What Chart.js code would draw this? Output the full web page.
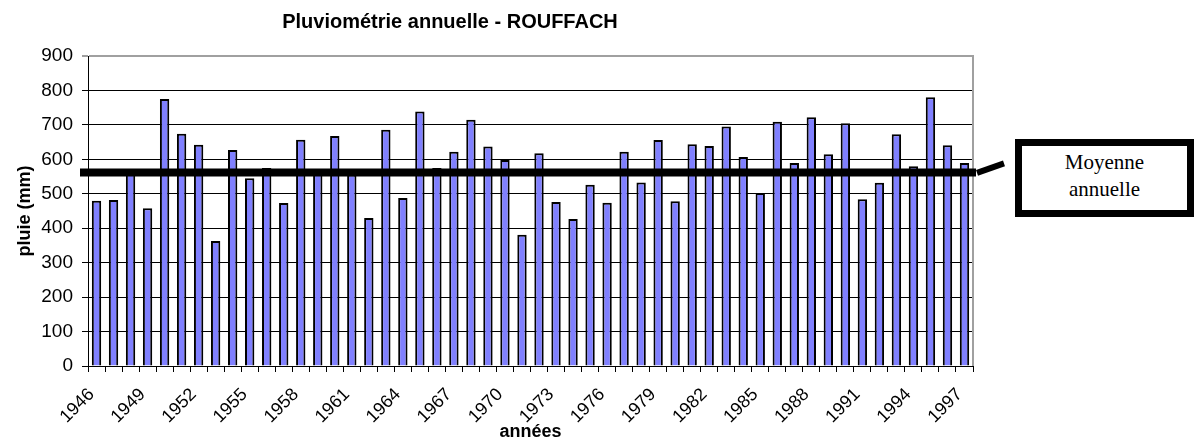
<!DOCTYPE html>
<html><head><meta charset="utf-8">
<script src="https://cdn.jsdelivr.net/npm/chart.js@4.4.1/dist/chart.umd.min.js"></script>
<style>
html,body{margin:0;padding:0;background:#fff;}
#wrap{position:relative;width:1199px;height:441px;overflow:hidden;}
#c{position:absolute;left:0;top:0;}
#box{position:absolute;left:1015px;top:139px;width:179px;height:78px;border:7px solid #000;box-sizing:border-box;font-family:'Liberation Serif','Times New Roman',serif;font-size:21px;line-height:27px;text-align:center;padding-top:3px;background:#fff;color:#000;}
</style></head><body>
<div id="wrap"><canvas id="c" width="1199" height="441"></canvas><div id="box">Moyenne<br>annuelle</div></div>
<script>
const years = ['1946','1947','1948','1949','1950','1951','1952','1953','1954','1955','1956','1957','1958','1959','1960','1961','1962','1963','1964','1965','1966','1967','1968','1969','1970','1971','1972','1973','1974','1975','1976','1977','1978','1979','1980','1981','1982','1983','1984','1985','1986','1987','1988','1989','1990','1991','1992','1993','1994','1995','1996','1997'];
const rainfall = [480,482,560,458,775,674,642,363,627,545,575,473,657,558,668,556,430,686,488,739,575,622,715,637,598,381,618,476,427,526,474,622,533,656,478,644,639,695,607,502,709,589,722,615,705,484,532,673,580,780,641,589];
const tickLabels = ['1946','1949','1952','1955','1958','1961','1964','1967','1970','1973','1976','1979','1982','1985','1988','1991','1994','1997'];
const meanRain = 562;
const chartTitle = 'Pluviométrie annuelle - ROUFFACH';

Chart.defaults.font.family = "'Liberation Sans', Arial, sans-serif";
Chart.defaults.color = '#000';

const decor = {
  id: 'decor',
  afterDatasetsDraw(chart) {
    const {ctx, chartArea: a, scales} = chart;
    ctx.save();
    ctx.strokeStyle = '#a0a0a0';
    ctx.lineWidth = 2;
    ctx.beginPath();
    ctx.moveTo(a.right, a.top - 1);
    ctx.lineTo(a.right, a.bottom);
    ctx.stroke();
    const y = scales.y.getPixelForValue(meanRain);
    ctx.strokeStyle = '#000';
    ctx.lineWidth = 8;
    ctx.beginPath();
    ctx.moveTo(a.left - 8, y);
    ctx.lineTo(a.right + 3, y);
    ctx.stroke();
    ctx.lineWidth = 6;
    ctx.beginPath();
    ctx.moveTo(a.right + 4, y + 0.5);
    ctx.lineTo(a.right + 31, y - 9);
    ctx.stroke();
    ctx.fillStyle = '#000';
    ctx.font = "bold 20px 'Liberation Sans', Arial, sans-serif";
    ctx.textAlign = 'center';
    ctx.textBaseline = 'middle';
    ctx.fillText(chartTitle, 450, 22);
    ctx.restore();
  }
};

new Chart(document.getElementById('c'), {
  type: 'bar',
  data: {
    labels: years,
    datasets: [{
      data: rainfall,
      backgroundColor: '#8080ff',
      borderColor: '#000',
      borderWidth: 2,
      barPercentage: 0.55,
      categoryPercentage: 1
    }]
  },
  options: {
    responsive: false,
    animation: false,
    layout: {padding: {top: 56, right: 226, bottom: 0, left: 0}},
    plugins: {legend: {display: false}, tooltip: {enabled: false}, title: {display: false}},
    scales: {
      x: {
        grid: {display: true, drawOnChartArea: false, drawTicks: true, tickLength: 6, color: '#000', offset: true},
        border: {display: true, color: '#000', width: 1},
        ticks: {
          autoSkip: false, maxRotation: 45, minRotation: 45, padding: 12, labelOffset: -5, color: '#000',
          font: {size: 18},
          callback: function(v) { const l = this.getLabelForValue(v); return tickLabels.includes(l) ? l : ''; }
        },
        title: {display: true, text: 'années', color: '#000', font: {size: 18, weight: 'bold'}, padding: {top: 0, bottom: -2}},
        afterFit(s) { s.height = 75; }
      },
      y: {
        min: 0, max: 900,
        ticks: {stepSize: 100, padding: 9, color: '#000', font: {size: 19}},
        grid: {
          color: c => (c.tick && c.tick.value === 900) ? '#a0a0a0' : '#000',
          lineWidth: c => (c.tick && c.tick.value === 900) ? 2 : 1,
          tickLength: 6, drawTicks: true
        },
        border: {display: true, color: '#000', width: 1},
        title: {display: true, text: 'pluie (mm)', color: '#000', font: {size: 18, weight: 'bold'}, padding: {top: 14, bottom: 0}},
        afterFit(s) { s.width = 88; }
      }
    }
  },
  plugins: [decor]
});
</script>
</body></html>
